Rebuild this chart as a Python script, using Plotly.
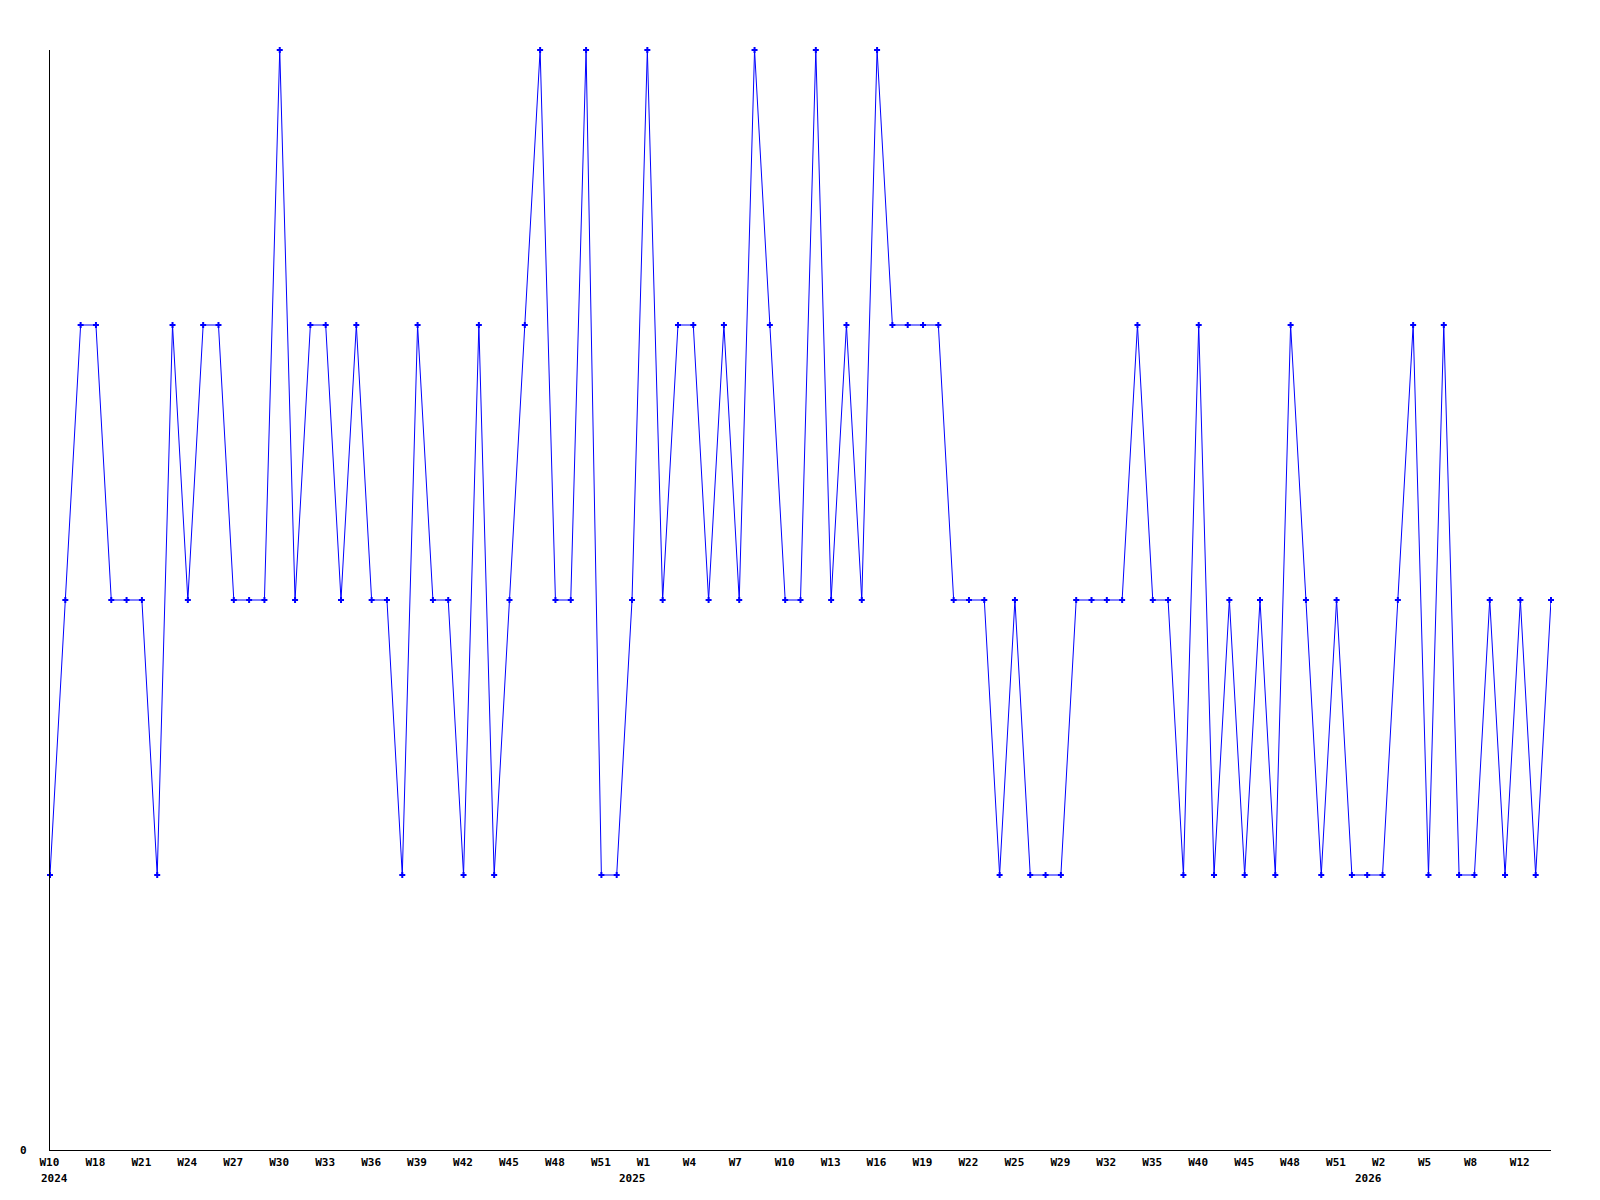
import plotly.graph_objects as go

# Weekly values (one per point, in order)
values = [
    1, 2, 3, 3, 2, 2, 2, 1, 3, 2,
    3, 3, 2, 2, 2, 4, 2, 3, 3, 2,
    3, 2, 2, 1, 3, 2, 2, 1, 3, 1,
    2, 3, 4, 2, 2, 4, 1, 1, 2, 4,
    2, 3, 3, 2, 3, 2, 4, 3, 2, 2,
    4, 2, 3, 2, 4, 3, 3, 3, 3, 2,
    2, 2, 1, 2, 1, 1, 1, 2, 2, 2,
    2, 3, 2, 2, 1, 3, 1, 2, 1, 2,
    1, 3, 2, 1, 2, 1, 1, 1, 2, 3,
    1, 3, 1, 1, 2, 1, 2, 1, 2,
]

# Tick labels (week) and the point index they sit on
tick_pos = [0, 3, 6, 9, 12, 15, 18, 21, 24, 27, 30, 33, 36,
            39, 42, 45, 48, 51, 54, 57, 60, 63, 66, 69, 72, 75, 78, 81, 84,
            87, 90, 93, 96]
tick_text = ["W10", "W18", "W21", "W24", "W27", "W30", "W33", "W36", "W39", "W42", "W45", "W48", "W51",
             "W1", "W4", "W7", "W10", "W13", "W16", "W19", "W22", "W25", "W29", "W32", "W35", "W40", "W45", "W48", "W51",
             "W2", "W5", "W8", "W12"]

# Year labels and the point index they belong to
year_pos = [0, 39, 87]
year_text = ["2024", "2025", "2026"]

x = list(range(len(values)))
FONT = dict(family="DejaVu Sans Mono", size=11, color="black", weight="bold")

fig = go.Figure()
fig.add_trace(go.Scatter(
    x=x, y=values, mode="lines+markers",
    line=dict(color="#0000ff", width=1),
    marker=dict(symbol="cross", size=5, color="#0000ff", line=dict(width=0)),
    cliponaxis=False, showlegend=False,
))

for i, (p, t) in enumerate(zip(year_pos, year_text)):
    fig.add_annotation(
        x=p, y=0, xref="x", yref="paper", text=t, showarrow=False,
        xanchor="left" if i == 0 else "right",
        xshift=-11 if i == 0 else 1,
        yanchor="middle", yshift=-28, font=FONT,
    )

fig.add_annotation(x=0, y=0, xref="paper", yref="paper", text="0", showarrow=False,
                   xanchor="right", xshift=-21, yanchor="middle", font=FONT)

fig.update_layout(
    width=1584, height=1184,
    margin=dict(l=42, r=41, t=42, b=42, autoexpand=False),
    paper_bgcolor="white", plot_bgcolor="white",
    xaxis=dict(
        range=[0, len(values) - 1], tickmode="array", tickvals=tick_pos, ticktext=tick_text,
        showgrid=False, zeroline=False, showline=True, linecolor="black", linewidth=1,
        ticks="", tickfont=FONT, tickangle=0,
        ticklabelposition="outside right", ticklabelshift=-11, ticklabelstandoff=2,
    ),
    yaxis=dict(
        range=[0, 4], showgrid=False, zeroline=False, showline=True, linecolor="black",
        linewidth=1, showticklabels=False, ticks="",
    ),
)

fig.write_html("out.html")
